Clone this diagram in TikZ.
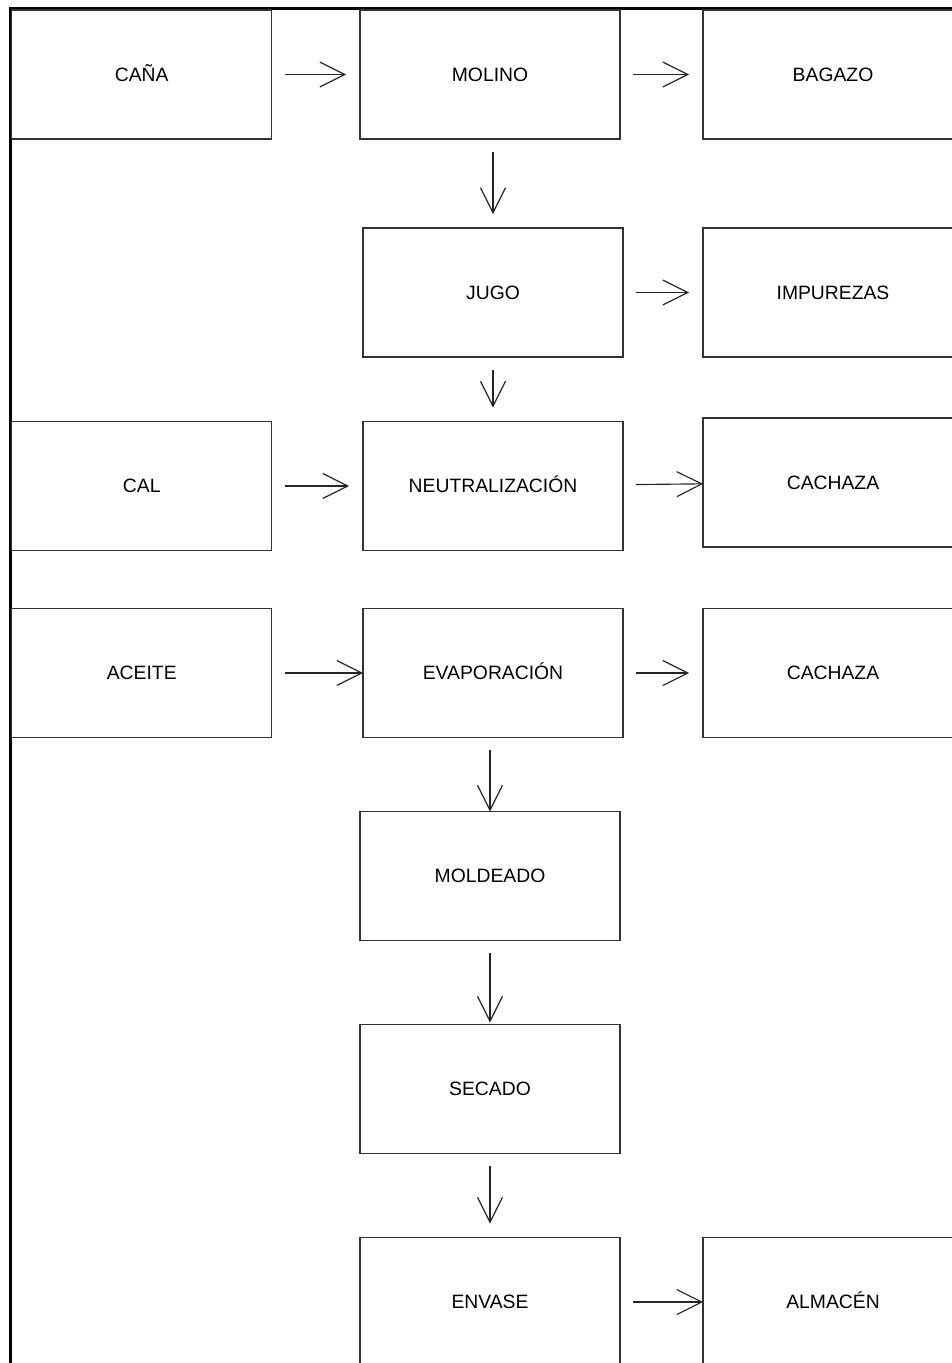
\documentclass[tikz,border=0pt]{standalone}
\usepackage{fontspec}
\setmainfont{Liberation Sans}
\usetikzlibrary{arrows.meta,positioning}

\begin{document}
\begin{tikzpicture}[x=0.02cm, y=-0.02cm,
        paso/.style={rectangle, draw=black!80, line width=0.75pt, minimum width=5.2cm, minimum height=2.58cm, inner sep=0pt, outer sep=0pt, text height=7.9pt, text depth=0pt, font=\fontsize{11}{13}\selectfont, align=center},
        flecha/.style={-{Straight Barb[length=5mm, width=5mm]}, black!85, line width=0.65pt, shorten <=0.26cm, shorten >=0.28cm}
    ]
        \useasboundingbox (0,0) rectangle (952,1363);
        \clip (0,0) rectangle (952,1363);

        % marco
        \draw[line width=1.3pt] (10.5,1363) -- (10.5,8.5) -- (952,8.5);

        \node[paso] (cana) at (141.75,74.5) {CAÑA};
        \node[paso] (molino) at (490,74.5) {MOLINO};
        \node[paso] (bagazo) at (833,74.5) {BAGAZO};
        \node[paso] (jugo) at (493,292.5) {JUGO};
        \node[paso] (impurezas) at (833,292.5) {IMPUREZAS};
        \node[paso] (cal) at (141.75,486) {CAL};
        \node[paso] (neutral) at (493,486) {NEUTRALIZACIÓN};
        \node[paso] (cachazaA) at (833,482.5) {CACHAZA};
        \node[paso] (aceite) at (141.75,673) {ACEITE};
        \node[paso] (evap) at (493,673) {EVAPORACIÓN};
        \node[paso] (cachazaB) at (833,673) {CACHAZA};
        \node[paso] (moldeado) at (490,876) {MOLDEADO};
        \node[paso] (secado) at (490,1089) {SECADO};
        \node[paso] (envase) at (490,1302) {ENVASE};
        \node[paso] (almacen) at (833,1302) {ALMACÉN};

        \draw[flecha] (cana) -- (molino);
        \draw[flecha] (molino) -- (bagazo);
        \draw[flecha] (molino.south -| jugo.north) -- (jugo.north);
        \draw[flecha] (jugo) -- (impurezas);
        \draw[flecha] (jugo.south -| neutral.north) -- (neutral.north);
        \draw[flecha] (cal) -- (neutral);
        \draw[flecha, shorten >=0pt] (neutral) -- (cachazaA);
        \draw[flecha, shorten >=0pt] (aceite) -- (evap);
        \draw[flecha] (evap) -- (cachazaB);
        \draw[flecha, shorten >=0pt] (evap.south -| moldeado.north) -- (moldeado.north);
        \draw[flecha, shorten >=0.04cm] (moldeado) -- (secado);
        \draw[flecha] (secado) -- (envase);
        \draw[flecha, shorten >=0pt] (envase) -- (almacen);
    \end{tikzpicture}
\end{document}
